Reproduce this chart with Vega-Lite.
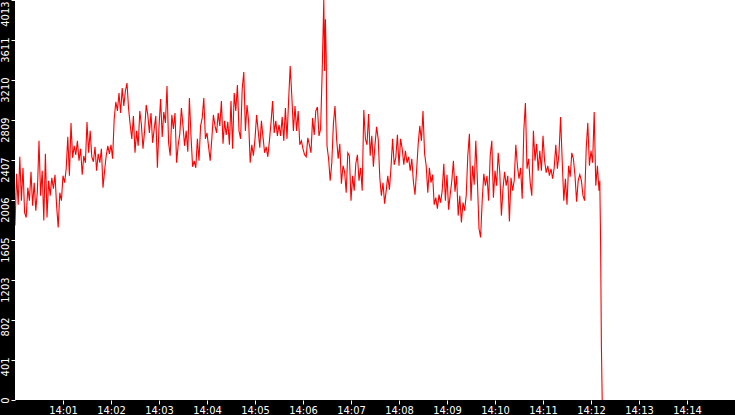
{
  "$schema": "https://vega.github.io/schema/vega-lite/v6.json",
  "width": 720,
  "height": 400,
  "autosize": "none",
  "padding": {"left": 15, "top": 0, "right": 0, "bottom": 15},
  "background": "black",
  "config": {
    "view": {"fill": "white", "stroke": null},
    "axis": {
      "labelColor": "white",
      "tickColor": "white",
      "labelFont": "'Liberation Sans Narrow', 'DejaVu Sans Condensed', sans-serif",
      "labelFontSize": 11,
      "domain": false,
      "grid": false,
      "title": null
    }
  },
  "data": {
    "values": [
      {"s":0,"v":1750},{"s":2,"v":2270},{"s":4,"v":1960},{"s":6,"v":2440},{"s":8,"v":2000},{"s":10,"v":2330},
      {"s":12,"v":1880},{"s":14,"v":1830},{"s":16,"v":2130},{"s":18,"v":2000},{"s":20,"v":2290},{"s":22,"v":1950},
      {"s":24,"v":2180},{"s":26,"v":1900},{"s":28,"v":2100},{"s":30,"v":2600},{"s":32,"v":2050},{"s":34,"v":2300},
      {"s":36,"v":1800},{"s":38,"v":2470},{"s":40,"v":1830},{"s":42,"v":2200},{"s":44,"v":2050},{"s":46,"v":2230},
      {"s":48,"v":2120},{"s":50,"v":2260},{"s":52,"v":1950},{"s":54,"v":1730},{"s":56,"v":2080},{"s":58,"v":2000},
      {"s":60,"v":2250},{"s":62,"v":2180},{"s":64,"v":2320},{"s":66,"v":2640},{"s":68,"v":2250},{"s":70,"v":2780},
      {"s":72,"v":2430},{"s":74,"v":2550},{"s":76,"v":2460},{"s":78,"v":2600},{"s":80,"v":2400},{"s":82,"v":2520},
      {"s":84,"v":2260},{"s":86,"v":2450},{"s":88,"v":2380},{"s":90,"v":2790},{"s":92,"v":2480},{"s":94,"v":2700},
      {"s":96,"v":2440},{"s":98,"v":2390},{"s":100,"v":2540},{"s":102,"v":2300},{"s":104,"v":2470},{"s":106,"v":2380},
      {"s":108,"v":2520},{"s":110,"v":2130},{"s":112,"v":2300},{"s":114,"v":2450},{"s":116,"v":2550},{"s":118,"v":2470},
      {"s":120,"v":2560},{"s":122,"v":2420},{"s":124,"v":2820},{"s":126,"v":2990},{"s":128,"v":2900},{"s":130,"v":3080},
      {"s":132,"v":2880},{"s":134,"v":3130},{"s":136,"v":2950},{"s":138,"v":3100},{"s":140,"v":3180},{"s":142,"v":2920},
      {"s":144,"v":2760},{"s":146,"v":2620},{"s":148,"v":2850},{"s":150,"v":2480},{"s":152,"v":2700},{"s":154,"v":2550},
      {"s":156,"v":2900},{"s":158,"v":2760},{"s":160,"v":2520},{"s":162,"v":2700},{"s":164,"v":2960},{"s":166,"v":2860},
      {"s":168,"v":2680},{"s":170,"v":2880},{"s":172,"v":2580},{"s":174,"v":2720},{"s":176,"v":2850},{"s":178,"v":2330},
      {"s":180,"v":2740},{"s":182,"v":3020},{"s":184,"v":2640},{"s":186,"v":2890},{"s":188,"v":2780},{"s":190,"v":3150},
      {"s":192,"v":2580},{"s":194,"v":2450},{"s":196,"v":2860},{"s":198,"v":2720},{"s":200,"v":2880},{"s":202,"v":2380},
      {"s":204,"v":2560},{"s":206,"v":2670},{"s":208,"v":2930},{"s":210,"v":2750},{"s":212,"v":2550},{"s":214,"v":2700},
      {"s":216,"v":2490},{"s":218,"v":3030},{"s":220,"v":2650},{"s":222,"v":2340},{"s":224,"v":2400},{"s":226,"v":2330},
      {"s":228,"v":2620},{"s":230,"v":2400},{"s":232,"v":2750},{"s":234,"v":2830},{"s":236,"v":3030},{"s":238,"v":2620},
      {"s":240,"v":2680},{"s":242,"v":2540},{"s":244,"v":2400},{"s":246,"v":2620},{"s":248,"v":2860},{"s":250,"v":2750},
      {"s":252,"v":2680},{"s":254,"v":2880},{"s":256,"v":2750},{"s":258,"v":3000},{"s":260,"v":2570},{"s":262,"v":2800},
      {"s":264,"v":2660},{"s":266,"v":2790},{"s":268,"v":2560},{"s":270,"v":3000},{"s":272,"v":2520},{"s":274,"v":3080},
      {"s":276,"v":2900},{"s":278,"v":3160},{"s":280,"v":2700},{"s":282,"v":2620},{"s":284,"v":3120},{"s":286,"v":3290},
      {"s":288,"v":2700},{"s":290,"v":2960},{"s":292,"v":2800},{"s":294,"v":2380},{"s":296,"v":2560},{"s":298,"v":2450},
      {"s":300,"v":2620},{"s":302,"v":2860},{"s":304,"v":2700},{"s":306,"v":2530},{"s":308,"v":2800},{"s":310,"v":2640},
      {"s":312,"v":2480},{"s":314,"v":2540},{"s":316,"v":2440},{"s":318,"v":2600},{"s":320,"v":2780},{"s":322,"v":3000},
      {"s":324,"v":2680},{"s":326,"v":2800},{"s":328,"v":2650},{"s":330,"v":2760},{"s":332,"v":2650},{"s":334,"v":2840},
      {"s":336,"v":2600},{"s":338,"v":2930},{"s":340,"v":2620},{"s":342,"v":3000},{"s":344,"v":3350},{"s":346,"v":3050},
      {"s":348,"v":2700},{"s":350,"v":2950},{"s":352,"v":2700},{"s":354,"v":2900},{"s":356,"v":2560},{"s":358,"v":2600},
      {"s":360,"v":2520},{"s":362,"v":2460},{"s":364,"v":2440},{"s":366,"v":2630},{"s":368,"v":2560},{"s":370,"v":2480},
      {"s":372,"v":2830},{"s":374,"v":2660},{"s":376,"v":2900},{"s":378,"v":2940},{"s":380,"v":2650},{"s":382,"v":2720},
      {"s":384,"v":3300},{"s":386,"v":4013},{"s":387,"v":3300},{"s":388,"v":3820},{"s":389,"v":3450},{"s":390,"v":2550},
      {"s":392,"v":2420},{"s":394,"v":2200},{"s":396,"v":2380},{"s":398,"v":2770},{"s":400,"v":2950},{"s":402,"v":2620},
      {"s":404,"v":2420},{"s":406,"v":2570},{"s":408,"v":2170},{"s":410,"v":2350},{"s":412,"v":2290},{"s":414,"v":2080},
      {"s":416,"v":2480},{"s":418,"v":2450},{"s":420,"v":2000},{"s":422,"v":2250},{"s":424,"v":2100},{"s":426,"v":2370},
      {"s":428,"v":2460},{"s":430,"v":2200},{"s":432,"v":2330},{"s":434,"v":2100},{"s":436,"v":2910},{"s":438,"v":2620},
      {"s":440,"v":2560},{"s":442,"v":2870},{"s":444,"v":2450},{"s":446,"v":2650},{"s":448,"v":2340},{"s":450,"v":2560},
      {"s":452,"v":2740},{"s":454,"v":2620},{"s":456,"v":2230},{"s":458,"v":2050},{"s":460,"v":2180},{"s":462,"v":1970},
      {"s":464,"v":2100},{"s":466,"v":2250},{"s":468,"v":2110},{"s":470,"v":2330},{"s":472,"v":2620},{"s":474,"v":2360},
      {"s":476,"v":2430},{"s":478,"v":2660},{"s":480,"v":2350},{"s":482,"v":2620},{"s":484,"v":2520},{"s":486,"v":2360},
      {"s":488,"v":2500},{"s":490,"v":2380},{"s":492,"v":2440},{"s":494,"v":2300},{"s":496,"v":2420},{"s":498,"v":2190},
      {"s":500,"v":2060},{"s":502,"v":2300},{"s":504,"v":2570},{"s":506,"v":2750},{"s":508,"v":2600},{"s":510,"v":2900},
      {"s":512,"v":2470},{"s":514,"v":2350},{"s":516,"v":2080},{"s":518,"v":2330},{"s":520,"v":2180},{"s":522,"v":2260},
      {"s":524,"v":1960},{"s":526,"v":2030},{"s":528,"v":1920},{"s":530,"v":2060},{"s":532,"v":1980},{"s":534,"v":2100},
      {"s":536,"v":2370},{"s":538,"v":2000},{"s":540,"v":2260},{"s":542,"v":1910},{"s":544,"v":2060},{"s":546,"v":2200},
      {"s":548,"v":2400},{"s":550,"v":2090},{"s":552,"v":2250},{"s":554,"v":1850},{"s":556,"v":2050},{"s":558,"v":1780},
      {"s":560,"v":1980},{"s":562,"v":1900},{"s":564,"v":2050},{"s":566,"v":2450},{"s":568,"v":2670},{"s":570,"v":2000},
      {"s":572,"v":2350},{"s":574,"v":2160},{"s":576,"v":2600},{"s":578,"v":2200},{"s":580,"v":1720},{"s":582,"v":1630},
      {"s":584,"v":2000},{"s":586,"v":2270},{"s":588,"v":2150},{"s":590,"v":2250},{"s":592,"v":2000},{"s":594,"v":2450},
      {"s":596,"v":2600},{"s":598,"v":2030},{"s":600,"v":2300},{"s":602,"v":2150},{"s":604,"v":2480},{"s":606,"v":2280},
      {"s":608,"v":1850},{"s":610,"v":2120},{"s":612,"v":2290},{"s":614,"v":2150},{"s":616,"v":2250},{"s":618,"v":1790},
      {"s":620,"v":2230},{"s":622,"v":2100},{"s":624,"v":2200},{"s":626,"v":2560},{"s":628,"v":2350},{"s":630,"v":2220},
      {"s":632,"v":2330},{"s":634,"v":2020},{"s":636,"v":2700},{"s":638,"v":2980},{"s":640,"v":2320},{"s":642,"v":2420},
      {"s":644,"v":2180},{"s":646,"v":2050},{"s":648,"v":2700},{"s":650,"v":2400},{"s":652,"v":2570},{"s":654,"v":2300},
      {"s":656,"v":2500},{"s":658,"v":2300},{"s":660,"v":2650},{"s":662,"v":2400},{"s":664,"v":2280},{"s":666,"v":2350},
      {"s":668,"v":2250},{"s":670,"v":2320},{"s":672,"v":2220},{"s":674,"v":2330},{"s":676,"v":2560},{"s":678,"v":2320},
      {"s":680,"v":2470},{"s":682,"v":2840},{"s":684,"v":2400},{"s":686,"v":2000},{"s":688,"v":2220},{"s":690,"v":1960},
      {"s":692,"v":2350},{"s":694,"v":2240},{"s":696,"v":2480},{"s":698,"v":2420},{"s":700,"v":2250},{"s":702,"v":1990},
      {"s":704,"v":2200},{"s":706,"v":2260},{"s":708,"v":2200},{"s":710,"v":2050},{"s":712,"v":2000},{"s":714,"v":2520},
      {"s":716,"v":2780},{"s":718,"v":2350},{"s":720,"v":2500},{"s":722,"v":2380},{"s":724,"v":2890},{"s":726,"v":2150},
      {"s":728,"v":2350},{"s":730,"v":2100},{"s":731,"v":2200},{"s":732,"v":1580},{"s":733,"v":540},{"s":734,"v":0}
    ]
  },
  "mark": {"type": "line", "color": "#ff0000", "strokeWidth": 1.1, "clip": true},
  "encoding": {
    "x": {
      "field": "s",
      "type": "quantitative",
      "scale": {"domain": [0, 900], "nice": false, "zero": false},
      "axis": {
        "values": [60, 120, 180, 240, 300, 360, 420, 480, 540, 600, 660, 720, 780, 840],
        "labelExpr": "'14:' + (datum.value < 600 ? '0' : '') + (datum.value / 60)",
        "tickSize": 4,
        "labelPadding": 0,
        "labelBaseline": "top"
      }
    },
    "y": {
      "field": "v",
      "type": "quantitative",
      "scale": {"domain": [0, 4013], "nice": false},
      "axis": {
        "values": [0, 401.3, 802.6, 1203.9, 1605.2, 2006.5, 2407.8, 2809.1, 3210.4, 3611.7, 4013],
        "labelExpr": "floor(datum.value)",
        "labelAngle": -90,
        "labelAlign": "right",
        "labelBaseline": "bottom",
        "labelOffset": {"condition": {"test": "datum.value > 4000", "value": 1}, "value": -3},
        "tickSize": 4,
        "labelPadding": 1,
        "labelBound": false,
        "labelOverlap": false
      }
    }
  }
}
